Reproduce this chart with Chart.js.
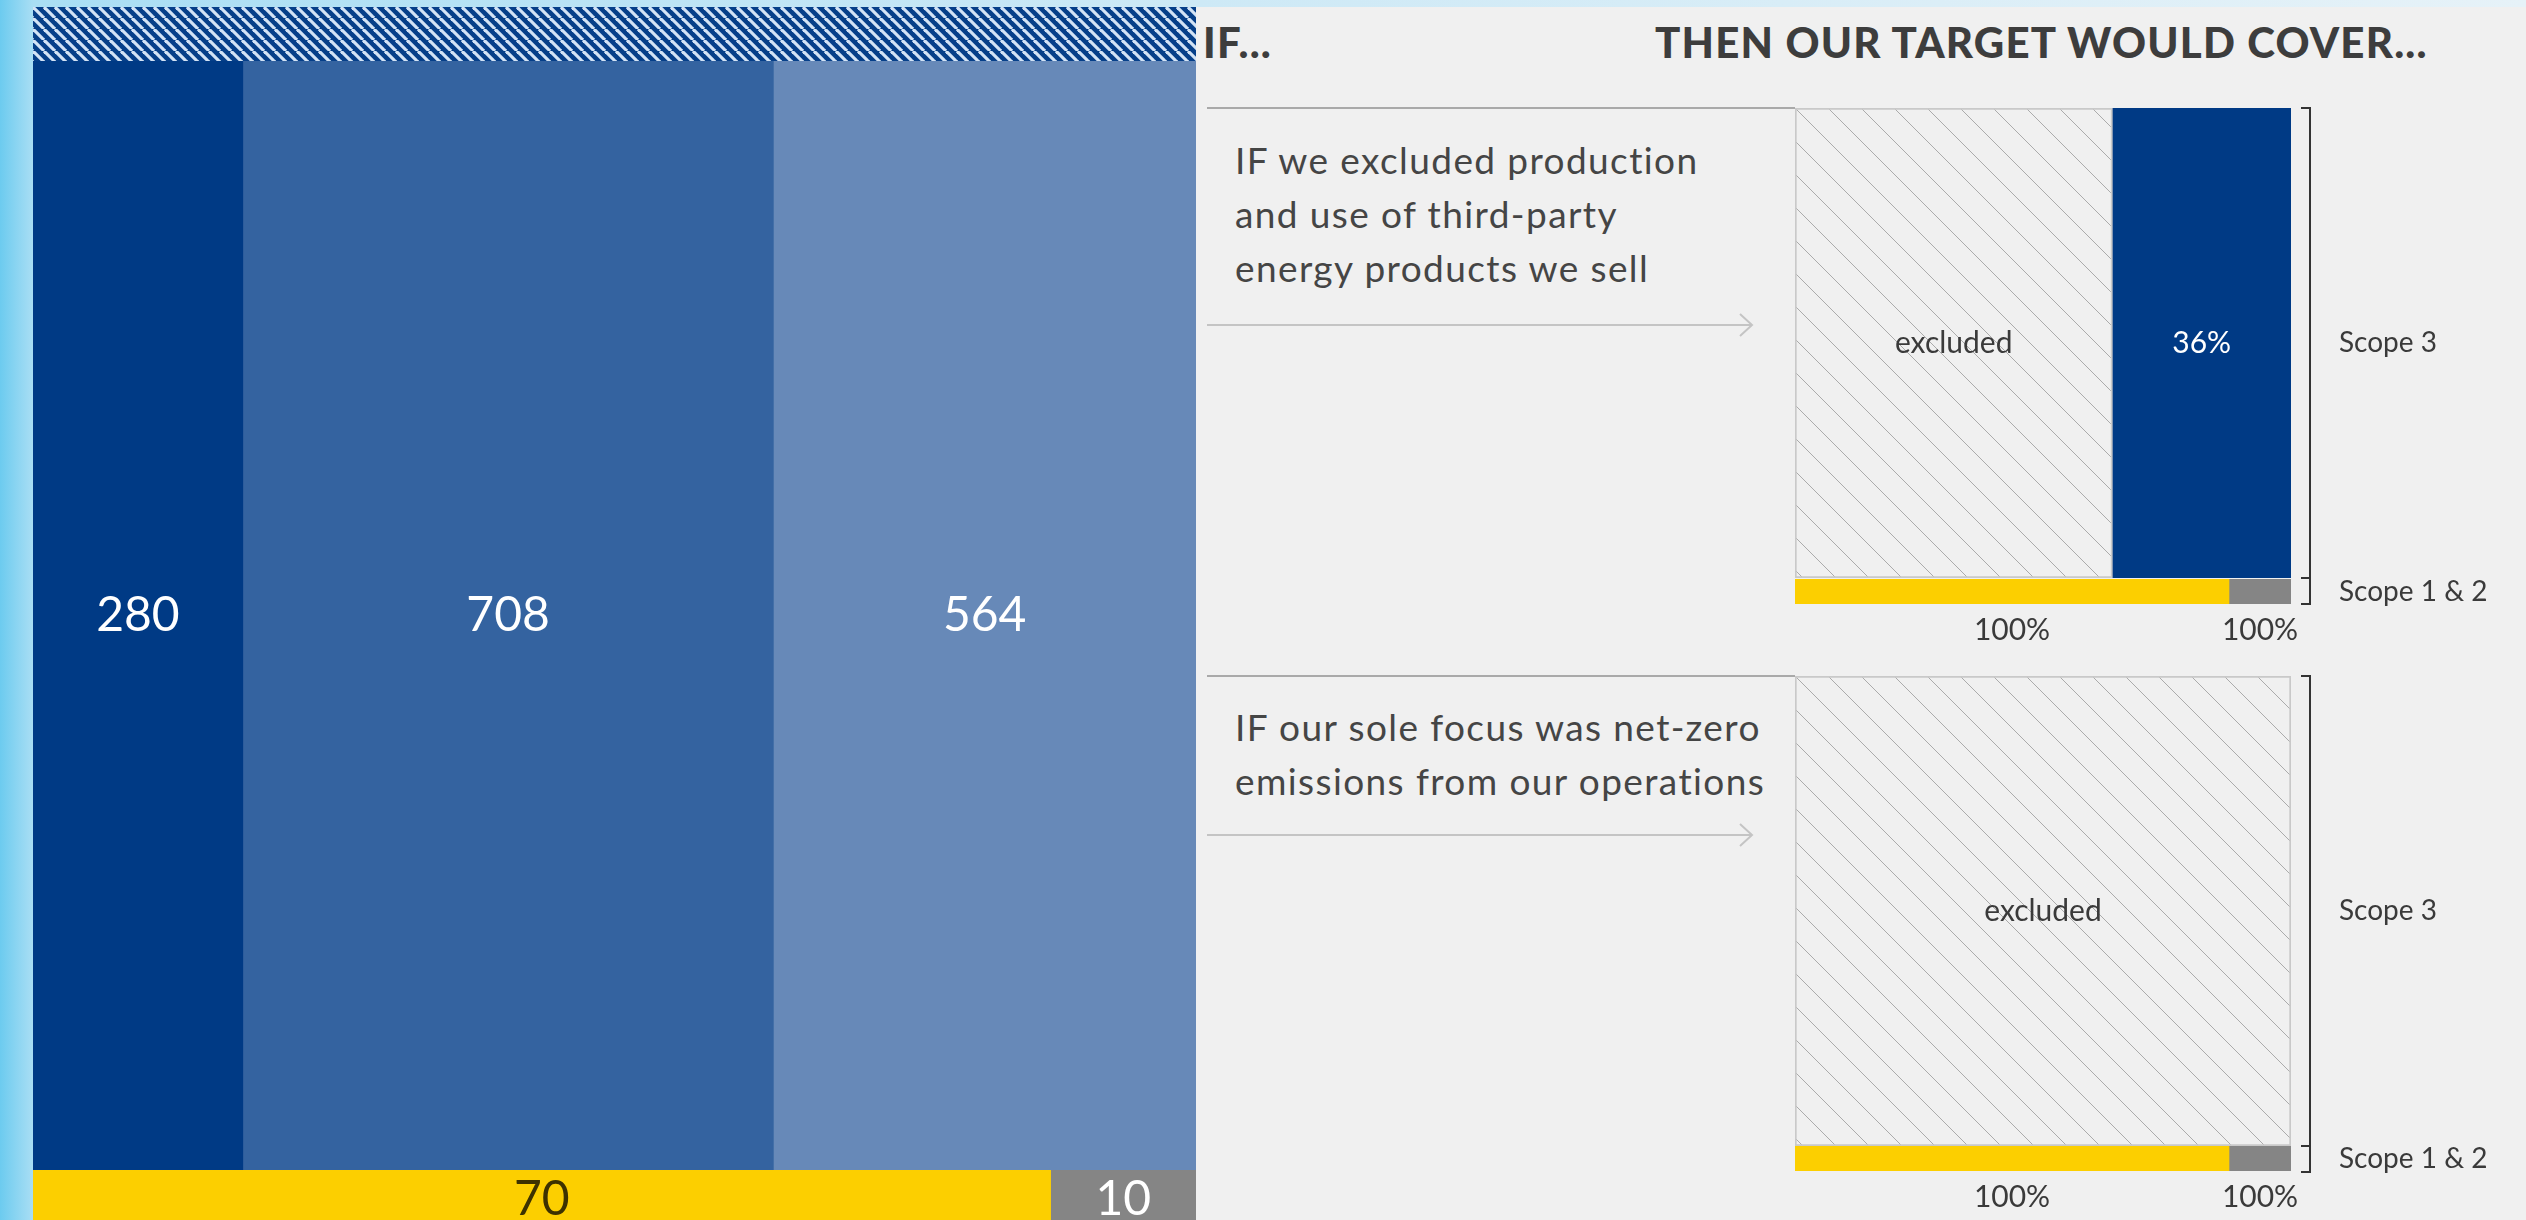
<!DOCTYPE html>
<html>
<head>
<meta charset="utf-8">
<script src="https://cdn.jsdelivr.net/npm/chart.js@4.4.1/dist/chart.umd.min.js"></script>
<style>
  html, body { margin: 0; padding: 0; }
  body {
    width: 2526px; height: 1220px; overflow: hidden; position: relative;
    background: linear-gradient(90deg, #6ccbef 0px, #a9def4 33px, #cde9f6 1196px, #e6f2f8 2526px);
    font-family: Lato, "Open Sans", sans-serif; color: #3a3a3a;
  }
  .box { position: absolute; }
  #right { left: 1196px; top: 7px; width: 1330px; height: 1213px; background: #f0f0f0; }
  .head { position: absolute; top: 21px; font-size: 42px; line-height: 42px; font-weight: 900; color: #3d3d3d; white-space: nowrap; letter-spacing: 1.2px; }
  .question { position: absolute; left: 1235px; font-size: 37px; line-height: 54px; font-weight: 400; letter-spacing: 1.4px; color: #454545; white-space: nowrap; }
  .rule { position: absolute; left: 1207px; width: 588px; height: 2px; background: #a9a9a9; }
  .arrow { position: absolute; left: 1207px; width: 560px; height: 30px; }
  .bracket { position: absolute; left: 2301px; width: 10px; box-sizing: border-box; border: 2px solid #333; border-left: none; }
</style>
</head>
<body>
<div id="right" class="box"></div>

<div class="box" style="left:33px; top:7px; width:1163px; height:54px;"><canvas id="leftStrip"></canvas></div>
<div class="box" style="left:33px; top:61px; width:1163px; height:1109px;"><canvas id="leftScope3"></canvas></div>
<div class="box" style="left:33px; top:1170px; width:1163px; height:60px;"><canvas id="leftScope12"></canvas></div>

<div class="head" style="left:1203px;">IF...</div>
<div class="head" style="left:1655px;">THEN OUR TARGET WOULD COVER...</div>

<div class="rule" style="top:107px;"></div>
<div class="question" style="top:133px;">IF we excluded production<br>and use of third-party<br>energy products we sell</div>
<svg class="arrow" style="top:310px;"><line x1="0" y1="15" x2="544" y2="15" stroke="#c4c4c4" stroke-width="2"/><polyline points="533,4 545,15 533,26" fill="none" stroke="#c4c4c4" stroke-width="2"/></svg>

<div class="rule" style="top:675px;"></div>
<div class="question" style="top:700px;">IF our sole focus was net-zero<br>emissions from our operations</div>
<svg class="arrow" style="top:820px;"><line x1="0" y1="15" x2="544" y2="15" stroke="#c4c4c4" stroke-width="2"/><polyline points="533,4 545,15 533,26" fill="none" stroke="#c4c4c4" stroke-width="2"/></svg>

<div class="bracket" style="top:107px; height:472px;"></div>
<div class="bracket" style="top:577px; height:28px;"></div>
<div class="bracket" style="top:675px; height:472px;"></div>
<div class="bracket" style="top:1145px; height:28px;"></div>

<div class="box" style="left:1795px; top:108px; width:726px; height:470px;"><canvas id="box1"></canvas></div>
<div class="box" style="left:1795px; top:579px; width:726px; height:72px;"><canvas id="bar1"></canvas></div>
<div class="box" style="left:1795px; top:676px; width:726px; height:470px;"><canvas id="box2"></canvas></div>
<div class="box" style="left:1795px; top:1146px; width:726px; height:72px;"><canvas id="bar2"></canvas></div>

<script>
/* ============================================================
DADOS
============================================================ */

const scope3Segments = [280, 708, 564];
const scope3Colors = ["#003a85", "#3463a0", "#6789b8"];

const scope12Segments = [70, 10];
const scope12Colors = ["#fccf00", "#858585"];
const scope12LabelColors = ["#3d3200", "#ffffff"];

const excludedStrip = [1552];

// share of scope 3 each scenario would cover
const scenarioCovered = [36, 0];
const scenarioExcluded = [64, 100];
const scope12Covered = [100, 100];

const rowLabels = ["Scope 3", "Scope 1 & 2"];

/* ============================================================
PADRÕES
============================================================ */

function hatch(bg, line, gap, width) {
  const c = document.createElement("canvas");
  c.width = gap;
  c.height = gap;
  const g = c.getContext("2d");
  g.fillStyle = bg;
  g.fillRect(0, 0, gap, gap);
  g.strokeStyle = line;
  g.lineWidth = width;
  for (const o of [-gap, 0, gap]) {
    g.beginPath();
    g.moveTo(o, 0);
    g.lineTo(o + gap, gap);
    g.stroke();
  }
  return g.createPattern(c, "repeat");
}

const blueHatch = hatch("#063f89", "#d3e3f5", 11, 3.2);
const greyHatch = hatch("#f0f0f0", "#ababab", 33, 1);

/* ============================================================
PLUGIN RÓTULOS
============================================================ */

const barLabels = {
  id: "barLabels",
  afterDatasetsDraw(chart) {
    const { ctx } = chart;
    chart.data.datasets.forEach((ds, i) => {
      if (!ds.valueLabels) return;
      chart.getDatasetMeta(i).data.forEach((bar, j) => {
        const text = ds.valueLabels[j];
        if (!text) return;
        ctx.save();
        ctx.font = ds.labelFont;
        ctx.fillStyle = ds.labelColor;
        ctx.textAlign = "center";
        ctx.textBaseline = "middle";
        const x = (bar.x + bar.base) / 2;
        const y = ds.labelBelow ? bar.y + bar.height / 2 + ds.labelBelow : bar.y;
        ctx.fillText(text, x, y);
        ctx.restore();
      });
    });
  },
};

Chart.register(barLabels);

/* ============================================================
LINHA EMPILHADA
============================================================ */

function rowChart(id, label, datasets, max, extra = {}) {
  const canvas = document.getElementById(id);
  return new Chart(canvas, {
    type: "bar",
    data: { labels: [label], datasets },
    options: {
      indexAxis: "y",
      responsive: true,
      maintainAspectRatio: false,
      animation: false,
      layout: { padding: extra.padding || 0 },
      events: [],
      plugins: { legend: { display: false }, tooltip: { enabled: false } },
      datasets: { bar: { categoryPercentage: 1, barPercentage: 1, borderSkipped: false } },
      scales: {
        x: { stacked: true, display: false, min: 0, max },
        y: extra.axisLabel
          ? {
              stacked: true,
              position: "right",
              grid: { display: false, drawTicks: false },
              border: { display: false },
              ticks: {
                padding: 48,
                crossAlign: "near",
                color: "#3a3a3a",
                font: { family: "Lato", size: 28 },
              },
              // ticks.padding also pads vertically: keep the bar full height
              afterFit: (s) => {
                s.width = 230;
                s.paddingTop = 0;
                s.paddingBottom = 0;
              },
            }
          : { stacked: true, display: false },
      },
    },
  });
}

const sum = (arr) => arr.reduce((a, b) => a + b, 0);

/* ---------- painel esquerdo ---------- */

rowChart("leftStrip", "", [{ data: excludedStrip, backgroundColor: blueHatch }], sum(excludedStrip));

rowChart(
  "leftScope3",
  rowLabels[0],
  scope3Segments.map((v, i) => ({
    data: [v],
    backgroundColor: scope3Colors[i],
    valueLabels: [String(v)],
    labelFont: "48px Lato",
    labelColor: "#ffffff",
  })),
  sum(scope3Segments)
);

rowChart(
  "leftScope12",
  rowLabels[1],
  scope12Segments.map((v, i) => ({
    data: [v],
    backgroundColor: scope12Colors[i],
    valueLabels: [String(v)],
    labelFont: "48px Lato",
    labelColor: scope12LabelColors[i],
  })),
  sum(scope12Segments)
);

/* ---------- painel direito ---------- */

scenarioCovered.forEach((covered, k) => {
  rowChart(
    "box" + (k + 1),
    rowLabels[0],
    [
      {
        data: [scenarioExcluded[k]],
        backgroundColor: greyHatch,
        borderColor: "#c9c9c9",
        borderWidth: 2,
        valueLabels: ["excluded"],
        labelFont: "30px Lato",
        labelColor: "#3a3a3a",
      },
      {
        data: [covered],
        backgroundColor: "#003a85",
        valueLabels: [covered ? covered + "%" : ""],
        labelFont: "30px Lato",
        labelColor: "#ffffff",
      },
    ],
    100,
    { axisLabel: true }
  );

  rowChart(
    "bar" + (k + 1),
    rowLabels[1],
    scope12Segments.map((v, i) => ({
      data: [v],
      backgroundColor: scope12Colors[i],
      valueLabels: [scope12Covered[k] + "%"],
      labelFont: "30px Lato",
      labelColor: "#3a3a3a",
      labelBelow: 26,
    })),
    sum(scope12Segments),
    { axisLabel: true, padding: { bottom: 47 } }
  );
});
</script>
</body>
</html>
